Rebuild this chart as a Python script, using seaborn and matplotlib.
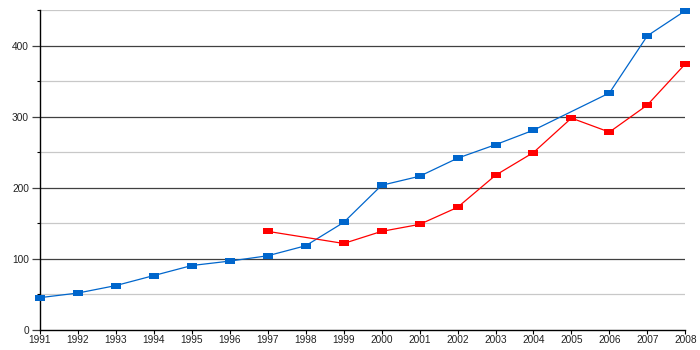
import matplotlib
matplotlib.use("Agg")
import matplotlib.pyplot as plt
from matplotlib.path import Path
from matplotlib.ticker import MultipleLocator
import seaborn as sns
import pandas as pd
import numpy as np

years_blue = [1991, 1992, 1993, 1994, 1995, 1996, 1997, 1998, 1999, 2000,
              2001, 2002, 2003, 2004, 2006, 2007, 2008]
values_blue = [45.5, 52, 62.5, 76.6, 90.7, 96.9, 104.4, 118.5, 151.3, 203.5,
               216.2, 241.6, 260.6, 281, 333.3, 413.7, 449]
years_red = [1997, 1999, 2000, 2001, 2002, 2003, 2004, 2005, 2006, 2007, 2008]
values_red = [138.7, 121.7, 138.7, 148.5, 172.5, 217.6, 249.6, 298, 278.3, 316.4, 374.2]
x_ticks = list(range(1991, 2009))
y_ticks = [0, 100, 200, 300, 400]

sns.set_theme(style="white")
plt.rcParams['font.family'] = ['Liberation Sans', 'DejaVu Sans']

df_blue = pd.DataFrame({"year": years_blue, "value": values_blue})
df_red = pd.DataFrame({"year": years_red, "value": values_red})

rect = Path([(-5, -3), (5, -3), (5, 3), (-5, 3), (-5, -3)],
            [Path.MOVETO, Path.LINETO, Path.LINETO, Path.LINETO, Path.CLOSEPOLY])

fig = plt.figure(figsize=(7, 3.5), dpi=100)
ax = fig.add_axes([40 / 700, 20 / 350, 645.3 / 700, 320 / 350])

for y in range(50, 451, 100):
    ax.axhline(y, color="#c8c8c8", lw=0.9, zorder=0)
for y in range(100, 401, 100):
    ax.axhline(y, color="#404040", lw=0.9, zorder=0)

sns.lineplot(data=df_blue, x="year", y="value", ax=ax, color="#0066cc",
             lw=0.9, marker=rect, markersize=7.2, markeredgewidth=0,
             markerfacecolor="#0066cc", clip_on=False, zorder=3)
sns.lineplot(data=df_red, x="year", y="value", ax=ax, color="#ff0000",
             lw=0.9, marker=rect, markersize=7.2, markeredgewidth=0,
             markerfacecolor="#ff0000", clip_on=False, zorder=4)

ax.set_xlim(1991, 2008)
ax.set_ylim(0, 450)
ax.set_xticks(x_ticks)
ax.set_xticklabels([str(t) for t in x_ticks])
ax.set_yticks(y_ticks)
ax.yaxis.set_minor_locator(MultipleLocator(50))
ax.set_xlabel("")
ax.set_ylabel("")

for s in ["top", "right"]:
    ax.spines[s].set_visible(False)
for s in ["left", "bottom"]:
    ax.spines[s].set_color("black")
    ax.spines[s].set_linewidth(1.0)

ax.tick_params(axis="x", which="major", direction="out", length=3, width=0.8,
               color="black", labelsize=7.3, pad=0.5, bottom=True, labelcolor="#222222")
ax.tick_params(axis="y", which="major", direction="out", length=6, width=0.9,
               color="#404040", labelsize=7.3, pad=2, left=True, labelcolor="#222222")
ax.tick_params(axis="y", which="minor", direction="out", length=2, width=0.8,
               color="black", left=True)

fig.savefig("out.png", dpi=100)
